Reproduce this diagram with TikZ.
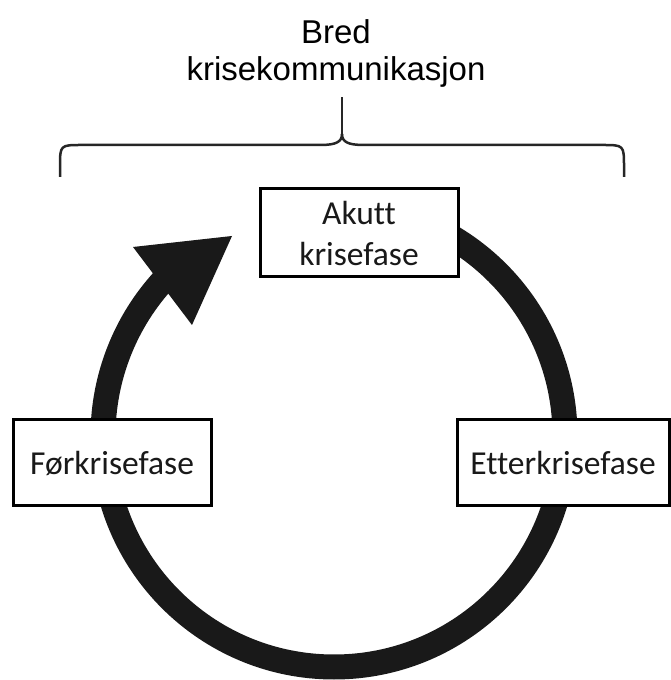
\documentclass[tikz,border=0pt]{standalone}
\usepackage{fontspec}
\setmainfont{Carlito}[Ligatures={NoCommon}]
\newfontfamily\helv{Liberation Sans}
\begin{document}
\begin{tikzpicture}[x=1pt,y=1pt,
  phasebox/.style={draw=black, line width=3pt, fill=white, inner sep=0pt, align=center,
    font=\fontsize{33.5}{41}\selectfont, text=black!90},
  ringline/.style={line width=25pt, draw=black!90},
  bracel/.style={line width=2.5pt, draw=black!85, line join=round}
]
\useasboundingbox (0,0) rectangle (670,680);
% ring
\coordinate (ringtop) at (334,475);
\draw[ringline] (ringtop) arc[start angle=90, end angle=-223, radius=231];
\coordinate (tip) at (232,444);
\coordinate (wingA) at (133,433);
\coordinate (wingB) at (192,355);
\fill[black!90] (tip) -- (wingA) -- (wingB) -- cycle;
% boxes
\node[phasebox, minimum width=198pt, minimum height=88pt] (akutt) at (359,447) {Akutt\\krisefase};
\node[phasebox, minimum width=198pt, minimum height=86pt] (for) at (112,217) {Førkrisefase};
\node[phasebox, minimum width=212pt, minimum height=86pt] (etter) at (563,217) {Etterkrisefase};
% brace
\coordinate (bl) at (60,503);
\coordinate (br) at (624,503);
\coordinate (bm) at (342,546);
\coordinate (btop) at (342,583);
\draw[bracel] (bl) -- (60,513) .. controls (60,535) and (60,535) .. (82,535) -- (320,535)
   .. controls (336,535) and (342,538) .. (bm);
\draw[bracel] (br) -- (624,513) .. controls (624,535) and (624,535) .. (602,535) -- (364,535)
   .. controls (348,535) and (342,538) .. (bm);
\draw[bracel] (bm) -- (btop);
% title
\node[anchor=north, inner sep=0pt, align=center, text=black,
  font=\helv\fontsize{33}{37}\selectfont] (title) at (336,661) {Bred\\krisekommunikasjon};
\end{tikzpicture}
\end{document}
